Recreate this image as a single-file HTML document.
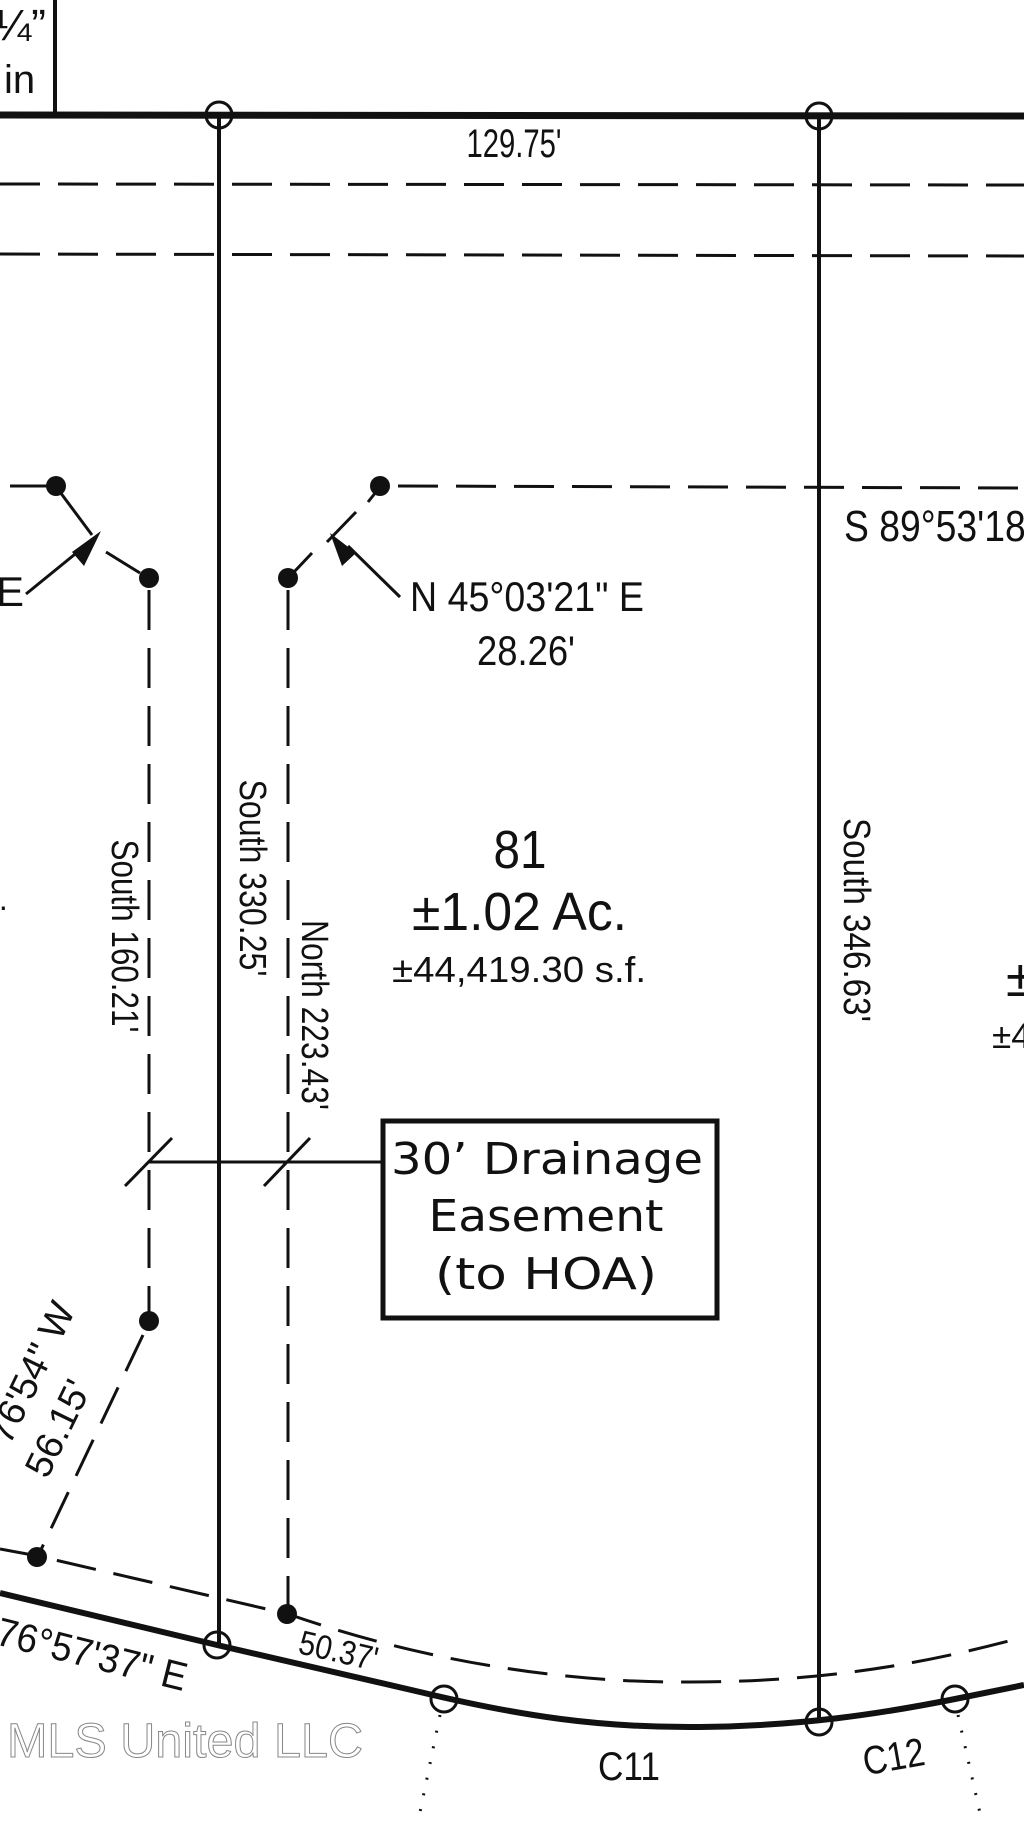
<!DOCTYPE html>
<html><head><meta charset="utf-8"><style>
html,body{margin:0;padding:0;background:#fff;}
svg{display:block;}
text{font-family:"Liberation Sans",sans-serif;fill:#111;}
</style></head><body>
<svg width="1024" height="1822" viewBox="0 0 1024 1822" xmlns="http://www.w3.org/2000/svg">
<rect width="1024" height="1822" fill="#fff"/>
<text x="-6" y="40" font-size="44" textLength="52" lengthAdjust="spacingAndGlyphs">¼”</text>
<text x="4" y="93" font-size="40">in</text>
<line x1="55" y1="0" x2="55" y2="116" stroke="#111" stroke-width="4"/>
<line x1="0" y1="115" x2="1024" y2="116" stroke="#111" stroke-width="7"/>
<text x="514" y="157" font-size="40" text-anchor="middle" textLength="95" lengthAdjust="spacingAndGlyphs">129.75'</text>
<g stroke="#111" stroke-width="3" stroke-dasharray="40 18" fill="none">
<line x1="0" y1="184" x2="1024" y2="185"/>
<line x1="0" y1="254" x2="1024" y2="256"/>
<line x1="398" y1="486" x2="1024" y2="488"/>
<line x1="149" y1="590" x2="149" y2="1321"/>
<line x1="288" y1="590" x2="288" y2="1614"/>
<line x1="143" y1="1335" x2="38" y2="1556"/>
<path d="M0,1549 L38,1556 L288,1614 C420,1660 560,1683 690,1682 C820,1682 920,1665 1024,1637"/>
</g>
<line x1="219" y1="115" x2="219" y2="1646" stroke="#111" stroke-width="4"/>
<line x1="819" y1="116" x2="819" y2="1722" stroke="#111" stroke-width="4"/>
<g stroke="#111" stroke-width="3" fill="none">
<line x1="10" y1="486" x2="56" y2="486"/>
<line x1="60" y1="492" x2="92" y2="535"/>
<line x1="106" y1="552" x2="140" y2="573"/>
<line x1="376" y1="492" x2="368" y2="502"/>
<line x1="356" y1="512" x2="327" y2="542"/>
<line x1="312" y1="553" x2="294" y2="572"/>
<line x1="26" y1="594" x2="85" y2="546"/>
<line x1="400" y1="597" x2="348" y2="546"/>
<line x1="149" y1="1162" x2="381" y2="1162"/>
<line x1="125" y1="1186" x2="172" y2="1138"/>
<line x1="264" y1="1186" x2="310" y2="1138"/>
<line x1="440" y1="1715" x2="418" y2="1822" stroke-dasharray="2 14"/>
<line x1="958" y1="1715" x2="982" y2="1822" stroke-dasharray="2 14"/>
</g>
<polygon points="101,531 72,552 84,566" fill="#111"/>
<polygon points="330,533 342,566 356,553" fill="#111"/>
<g fill="#111">
<circle cx="56" cy="486" r="10"/>
<circle cx="149" cy="578" r="10"/>
<circle cx="288" cy="578" r="10"/>
<circle cx="380" cy="486" r="10"/>
<circle cx="149" cy="1321" r="10"/>
<circle cx="37" cy="1557" r="10"/>
<circle cx="287" cy="1614" r="10"/>
</g>
<path d="M0,1593 L217,1645 L420,1692 C520,1716 600,1728 700,1727 C800,1726 880,1714 955,1699 L1024,1685" stroke="#111" stroke-width="6" fill="none"/>
<g fill="none" stroke="#111" stroke-width="3">
<circle cx="219" cy="115" r="13"/>
<circle cx="819" cy="116" r="13"/>
<circle cx="217" cy="1645" r="13"/>
<circle cx="444" cy="1699" r="13"/>
<circle cx="819" cy="1722" r="13"/>
<circle cx="955" cy="1699" r="13"/>
</g>
<rect x="383" y="1121" width="334" height="197" fill="#fff" stroke="#111" stroke-width="5"/>
<g text-anchor="middle" style="font-family:'DejaVu Sans',sans-serif">
<text x="547" y="1174" font-size="44" textLength="312" lengthAdjust="spacingAndGlyphs" style="font-family:'DejaVu Sans',sans-serif">30’ Drainage</text>
<text x="546" y="1231" font-size="44" textLength="235" lengthAdjust="spacingAndGlyphs" style="font-family:'DejaVu Sans',sans-serif">Easement</text>
<text x="546" y="1289" font-size="44" textLength="222" lengthAdjust="spacingAndGlyphs" style="font-family:'DejaVu Sans',sans-serif">(to HOA)</text>
</g>
<text x="410" y="611" font-size="42" textLength="234" lengthAdjust="spacingAndGlyphs">N 45°03'21" E</text>
<text x="526" y="665" font-size="42" text-anchor="middle" textLength="98" lengthAdjust="spacingAndGlyphs">28.26'</text>
<text x="844" y="541" font-size="44" textLength="195" lengthAdjust="spacingAndGlyphs">S 89°53'18"</text>
<text x="-4" y="606" font-size="42">E</text>
<text x="-10" y="910" font-size="32">f.</text>
<text x="520" y="868" font-size="54" text-anchor="middle" textLength="53" lengthAdjust="spacingAndGlyphs">81</text>
<text x="412" y="930" font-size="54" textLength="215" lengthAdjust="spacingAndGlyphs">±1.02 Ac.</text>
<text x="392" y="982" font-size="36" textLength="254" lengthAdjust="spacingAndGlyphs">±44,419.30 s.f.</text>
<text x="1006" y="996" font-size="52">±</text>
<text x="992" y="1048" font-size="35">±4</text>
<text transform="translate(112,936) rotate(90)" font-size="38" text-anchor="middle" textLength="193" lengthAdjust="spacingAndGlyphs">South  160.21'</text>
<text transform="translate(240,878) rotate(90)" font-size="38" text-anchor="middle" textLength="197" lengthAdjust="spacingAndGlyphs">South  330.25'</text>
<text transform="translate(302,1015) rotate(90)" font-size="38" text-anchor="middle" textLength="190" lengthAdjust="spacingAndGlyphs">North  223.43'</text>
<text transform="translate(844,920) rotate(90)" font-size="38" text-anchor="middle" textLength="204" lengthAdjust="spacingAndGlyphs">South  346.63'</text>
<text transform="translate(-6,1644) rotate(14)" font-size="40" textLength="195" lengthAdjust="spacingAndGlyphs">76°57'37" E</text>
<text transform="translate(297,1653) rotate(13)" font-size="34" textLength="80" lengthAdjust="spacingAndGlyphs">50.37'</text>
<text transform="translate(76,1310) rotate(-64)" font-size="38" text-anchor="end">76'54" W</text>
<text transform="translate(92,1388) rotate(-64)" font-size="38" text-anchor="end">56.15'</text>
<text x="629" y="1780" font-size="40" text-anchor="middle" textLength="62" lengthAdjust="spacingAndGlyphs">C11</text>
<text transform="translate(896,1770) rotate(-10)" font-size="40" text-anchor="middle" textLength="62" lengthAdjust="spacingAndGlyphs">C12</text>
<text x="7" y="1757" font-size="48" textLength="356" lengthAdjust="spacingAndGlyphs" style="fill:#fff;stroke:#888;stroke-width:1">MLS United LLC</text>
</svg>
</body></html>
